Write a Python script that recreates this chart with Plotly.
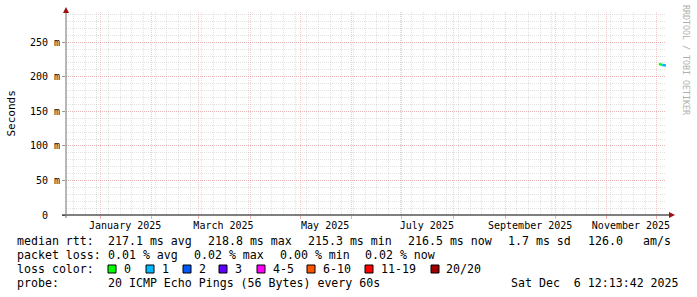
import plotly.graph_objects as go

# ---------------- data ----------------
times = ["2025-12-02 06:00", "2025-12-02 18:00", "2025-12-03 06:00", "2025-12-03 18:00",
         "2025-12-04 06:00", "2025-12-04 18:00", "2025-12-05 06:00", "2025-12-05 18:00",
         "2025-12-06 06:00", "2025-12-06 12:00"]
median_ms = [218.8, 218.5, 218.1, 217.7, 217.2, 216.9, 216.6, 216.2, 215.8, 216.5]
loss_count = [0, 0, 0, 0, 1, 1, 1, 1, 1, 1]

loss_labels = ["0", "1", "2", "3", "4-5", "6-10", "11-19", "20/20"]
loss_colors = ["#00ff00", "#00b8ff", "#0059ff", "#5e00ff", "#ff00ff", "#ff5500", "#ff0000", "#a10000"]

y_tick_vals = [0, 0.05, 0.10, 0.15, 0.20, 0.25]
y_tick_text = ["0", "50 m", "100 m", "150 m", "200 m", "250 m"]
month_label_dates = ["2025-01-16", "2025-03-16", "2025-05-16", "2025-07-16", "2025-09-16", "2025-11-15 12:00"]
month_label_text = ["January 2025", "March 2025", "May 2025", "July 2025", "September 2025", "November 2025"]

x_start, x_end = "2024-12-11 12:13:42", "2025-12-06 12:13:42"
y_top = 0.2938

legend_line1 = [("median rtt:", 16), ("217.1 ms avg", 107), ("218.8 ms max", 207), ("215.3 ms min", 307),
                ("216.5 ms now", 407), ("1.7 ms sd", 507), ("126.0", 587), ("am/s", 642)]
legend_line2 = [("packet loss:", 16), ("0.01 % avg", 107), ("0.02 % max", 193), ("0.00 % min", 279),
                ("0.02 % now", 364)]
swatch_x = [108, 146, 183, 219, 257, 307, 365, 431]
probe_text = "20 ICMP Echo Pings (56 Bytes) every 60s"
date_text = "Sat Dec  6 12:13:42 2025"

# ---------------- layout geometry ----------------
W, H = 697, 297
L, R, T, B = 66, 666, 12, 215
MONO = "DejaVu Sans Mono"


def px(x):
    return (x - L) / (R - L)


def py(y):
    return (B - y) / (B - T)


def nb(s):
    return s.replace(" ", "\u00a0")


def bucket(n):
    if n <= 3:
        return n
    if n <= 5:
        return 4
    if n <= 10:
        return 5
    if n <= 19:
        return 6
    return 7


fig = go.Figure()

# median line, coloured by loss
seg_x, seg_y, cur = [], [], None
for t, v, l in zip(times, median_ms, loss_count):
    b = bucket(l)
    if cur is not None and b != cur:
        fig.add_trace(go.Scatter(x=seg_x + [t], y=seg_y + [v / 1000], mode="lines",
                                 line=dict(color=loss_colors[cur], width=2.5), showlegend=False,
                                 hoverinfo="skip"))
        seg_x, seg_y = [], []
    cur = b
    seg_x.append(t)
    seg_y.append(v / 1000)
if seg_x:
    fig.add_trace(go.Scatter(x=seg_x, y=seg_y, mode="lines",
                             line=dict(color=loss_colors[cur], width=2.5), showlegend=False,
                             hoverinfo="skip"))

# invisible trace for label axis
fig.add_trace(go.Scatter(x=[x_start], y=[0], xaxis="x2", mode="markers",
                         marker=dict(opacity=0), showlegend=False, hoverinfo="skip"))

grid_major = "rgba(235,90,90,0.32)"
grid_minor = "rgba(140,140,140,0.25)"
DASH = "1px,1px"

fig.update_layout(
    width=W, height=H, autosize=False,
    margin=dict(l=L, r=W - R, t=T, b=H - B),
    paper_bgcolor="white", plot_bgcolor="white",
    font=dict(family=MONO, size=10, color="black"),
    xaxis=dict(
        type="date", range=[x_start, x_end], showticklabels=False,
        tickmode="linear", tick0="2025-01-01", dtick="M1",
        showgrid=True, gridcolor=grid_major, griddash=DASH, gridwidth=1,
        ticks="outside", ticklen=3, tickcolor="rgba(235,90,90,0.5)",
        minor=dict(tickmode="linear", tick0="2024-12-16", dtick=7 * 86400000,
                   showgrid=True, gridcolor=grid_minor, griddash=DASH, gridwidth=1, ticks=""),
        showline=False, zeroline=False, fixedrange=True,
    ),
    xaxis2=dict(
        type="date", range=[x_start, x_end], overlaying="x", side="bottom",
        tickmode="array", tickvals=month_label_dates, ticktext=month_label_text,
        showgrid=False, showline=False, zeroline=False, ticks="", ticklabelstandoff=3,
        tickfont=dict(family=MONO, size=10, color="black"),
    ),
    yaxis=dict(
        range=[0, y_top], tickmode="array", tickvals=y_tick_vals,
        ticktext=[nb(t) if t != "0" else "0\u00a0\u00a0" for t in y_tick_text],
        showgrid=True, gridcolor=grid_major, griddash=DASH, gridwidth=1,
        ticks="outside", ticklen=3, tickcolor="#999",
        tickfont=dict(family=MONO, size=10, color="black"),
        minor=dict(tickmode="linear", tick0=0, dtick=0.01, showgrid=True,
                   gridcolor=grid_minor, griddash=DASH, gridwidth=1, ticks=""),
        showline=False, zeroline=False,
    ),
)

shapes = []
# axes lines
shapes.append(dict(type="line", xref="paper", yref="paper", x0=px(62), x1=px(670), y0=0, y1=0,
                   line=dict(color="black", width=1)))
shapes.append(dict(type="line", xref="paper", yref="paper", x0=0, x1=0, y0=py(218), y1=py(10),
                   line=dict(color="#707070", width=1)))
# arrows
shapes.append(dict(type="path", xref="paper", yref="paper",
                   path=f"M {px(66)} {py(7)} L {px(63)} {py(13)} L {px(69)} {py(13)} Z",
                   fillcolor="#a01010", line=dict(width=0)))
shapes.append(dict(type="path", xref="paper", yref="paper",
                   path=f"M {px(675)} {py(215)} L {px(669)} {py(212)} L {px(669)} {py(218)} Z",
                   fillcolor="#a01010", line=dict(width=0)))
# loss colour swatches
for sx, c in zip(swatch_x, loss_colors):
    shapes.append(dict(type="rect", xref="paper", yref="paper",
                       x0=px(sx), x1=px(sx + 8), y0=py(273), y1=py(265),
                       fillcolor=c, line=dict(color="black", width=1)))
fig.update_layout(shapes=shapes)

ann = []
LEG = 11.6


def text(s, x, y, anchor="left", size=LEG, color="black", angle=0, yanchor="middle"):
    ann.append(dict(text=nb(s), x=px(x), y=py(y), xref="paper", yref="paper",
                    xanchor=anchor, yanchor=yanchor, showarrow=False, textangle=angle,
                    font=dict(family=MONO, size=size, color=color), borderpad=0))


for s, x in legend_line1:
    text(s, x, 241)
for s, x in legend_line2:
    text(s, x, 255)
text("loss color:", 16, 269)
for sx, lab in zip(swatch_x, loss_labels):
    text(lab, sx + 14.5, 269)
text("probe:", 16, 283)
text(probe_text, 107, 283)
text(date_text, 680, 283, anchor="right")

# y title
text("Seconds", 11, 113.5, anchor="center", size=11, angle=-90)
# watermark
text("RRDTOOL / TOBI OETIKER", 686, 60, anchor="center", size=8.3, color="#b0b0b0", angle=90)

fig.update_layout(annotations=ann)

fig.write_html("out.html")
